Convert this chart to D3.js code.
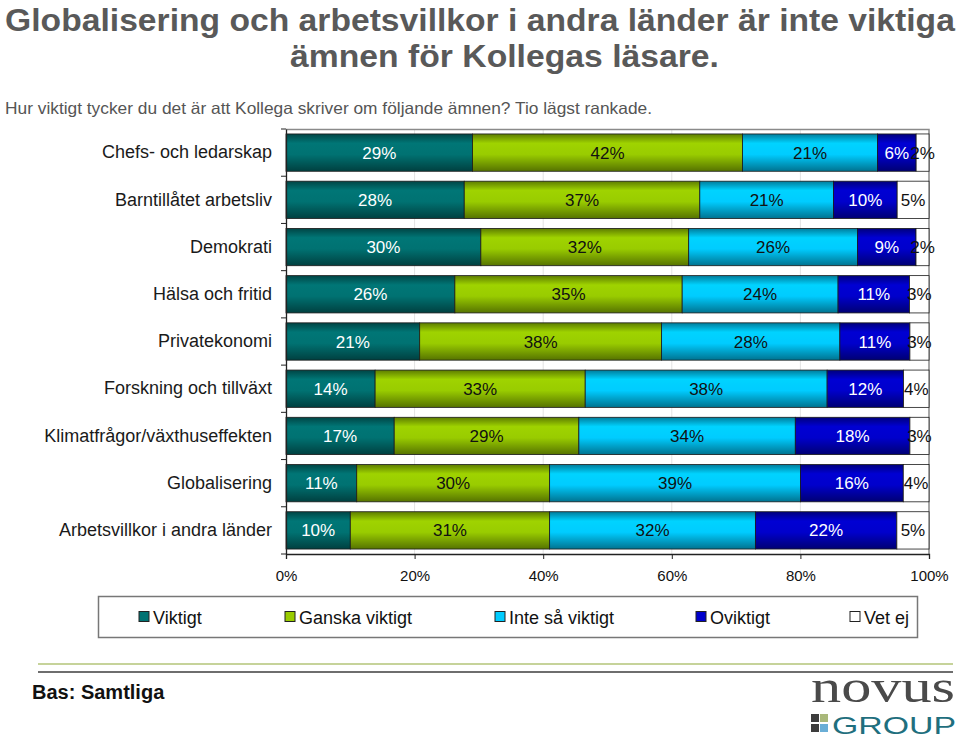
<!DOCTYPE html>
<html>
<head>
<meta charset="utf-8">
<script src="https://cdn.jsdelivr.net/npm/d3@7"></script>
<style>
  html, body { margin: 0; padding: 0; background: #fff; }
  svg { display: block; }
</style>
</head>
<body>
<svg id="chart" width="960" height="739" font-family="Liberation Sans, Arial, sans-serif"></svg>
<script>
// ---- data ----
const categories = [
  "Chefs- och ledarskap",
  "Barntillåtet arbetsliv",
  "Demokrati",
  "Hälsa och fritid",
  "Privatekonomi",
  "Forskning och tillväxt",
  "Klimatfrågor/växthuseffekten",
  "Globalisering",
  "Arbetsvillkor i andra länder"
];
const seriesNames = ["Viktigt", "Ganska viktigt", "Inte så viktigt", "Oviktigt", "Vet ej"];
const viktigt  = [29, 28, 30, 26, 21, 14, 17, 11, 10];
const ganska   = [42, 37, 32, 35, 38, 33, 29, 30, 31];
const inteSa   = [21, 21, 26, 24, 28, 38, 34, 39, 32];
const oviktigt = [6, 10, 9, 11, 11, 12, 18, 16, 22];
const vetEj    = [2, 5, 2, 3, 3, 4, 3, 4, 5];
const xTicks   = [0, 0.2, 0.4, 0.6, 0.8, 1.0];
const xTickLabels = ["0%", "20%", "40%", "60%", "80%", "100%"];

const titleLines = ["Globalisering och arbetsvillkor i andra länder är inte viktiga", "ämnen för Kollegas läsare."];
const subtitle = "Hur viktigt tycker du det är att Kollega skriver om följande ämnen? Tio lägst rankade.";
const baseText = "Bas: Samtliga";

// ---- styles ----
const seriesColors = ["#007272", "#99cc00", "#00ccff", "#0000cc", "#ffffff"];
const labelColors = ["#ffffff", "#111111", "#111111", "#ffffff", "#111111"];

const svg = d3.select("#chart");
const defs = svg.append("defs");

seriesColors.forEach((c, i) => {
  const g = defs.append("linearGradient").attr("id", "grad" + i)
    .attr("x1", 0).attr("y1", 0).attr("x2", 0).attr("y2", 1);
  if (i === 4) {
    g.append("stop").attr("offset", "0%").attr("stop-color", "#ffffff");
    g.append("stop").attr("offset", "100%").attr("stop-color", "#ffffff");
    return;
  }
  const base = d3.color(c);
  g.append("stop").attr("offset", "0%").attr("stop-color", base.darker(1.4));
  g.append("stop").attr("offset", "25%").attr("stop-color", base.brighter(0.1));
  g.append("stop").attr("offset", "55%").attr("stop-color", base);
  g.append("stop").attr("offset", "100%").attr("stop-color", base.darker(1.6));
});

// ---- title (horizontally condensed via transform so its box matches what is drawn) ----
function condensedText(str, cx, cy, size, targetW) {
  const t = svg.append("text").attr("x", 0).attr("y", 0).attr("text-anchor", "middle")
    .attr("font-size", size).attr("font-weight", "bold").attr("fill", "#595959").text(str);
  const w = t.node().getComputedTextLength();
  const k = w > 0 ? targetW / w : 1;
  t.attr("transform", `translate(${cx},${cy}) scale(${k},1)`);
  return t;
}
condensedText(titleLines[0], 480, 30.5, 32, 950);
condensedText(titleLines[1], 504.5, 66.5, 32, 429);

svg.append("text").attr("x", 5).attr("y", 114)
  .attr("font-size", 16.5).attr("fill", "#555555")
  .attr("textLength", 647).attr("lengthAdjust", "spacingAndGlyphs")
  .text(subtitle);

// ---- scales ----
const x = d3.scaleLinear().domain([0, 1]).range([286, 929]);
const y = d3.scaleBand().domain(categories).range([129, 554]).paddingInner(0.21).paddingOuter(0.105);

// data table
const rows = categories.map((c, i) => ({
  cat: c,
  "Viktigt": viktigt[i],
  "Ganska viktigt": ganska[i],
  "Inte så viktigt": inteSa[i],
  "Oviktigt": oviktigt[i],
  "Vet ej": vetEj[i]
}));
const stacked = d3.stack().keys(seriesNames).offset(d3.stackOffsetExpand)(rows);

// plot background + gridlines
svg.append("rect").attr("x", x(0)).attr("y", 129).attr("width", x(1) - x(0)).attr("height", 554 - 129)
  .attr("fill", "#ffffff");
svg.append("g").selectAll("line").data(xTicks.slice(1, -1)).join("line")
  .attr("x1", d => x(d)).attr("x2", d => x(d))
  .attr("y1", 129).attr("y2", 554)
  .attr("stroke", "#e3e3e3").attr("stroke-width", 1);
svg.append("path")
  .attr("d", `M${x(0)},129.5 H${x(1)} V554`)
  .attr("fill", "none").attr("stroke", "#8a8a8a").attr("stroke-width", 1.5);

// bars
const layers = svg.append("g").selectAll("g").data(stacked).join("g")
  .attr("fill", (d, i) => `url(#grad${i})`);
layers.selectAll("rect").data(d => d).join("rect")
  .attr("x", d => x(d[0]))
  .attr("y", d => y(d.data.cat))
  .attr("width", d => x(d[1]) - x(d[0]))
  .attr("height", y.bandwidth())
  .attr("stroke", "#1a1a1a").attr("stroke-width", 0.8);

// bar labels
const labels = svg.append("g");
stacked.forEach((layer, si) => {
  labels.selectAll(null).data(layer).join("text")
    .attr("x", d => (x(d[0]) + x(d[1])) / 2)
    .attr("y", d => y(d.data.cat) + y.bandwidth() / 2 + 6)
    .attr("text-anchor", "middle")
    .attr("font-size", 17)
    .attr("fill", labelColors[si])
    .text(d => d.data[seriesNames[si]] + "%");
});

// axes
const xAxis = d3.axisBottom(x).tickValues(xTicks).tickFormat((d, i) => xTickLabels[i]).tickSize(5).tickPadding(11);
const gx = svg.append("g").attr("transform", "translate(0,554)").call(xAxis);
gx.attr("font-family", null).attr("font-size", null);
gx.select(".domain").attr("stroke", "#222").attr("stroke-width", 1.3);
gx.selectAll(".tick line").attr("stroke", "#222");
gx.selectAll("text").attr("font-size", 15).attr("fill", "#111");

const yAxis = d3.axisLeft(y).tickSize(0).tickPadding(14);
const gy = svg.append("g").attr("transform", `translate(${x(0)},0)`).call(yAxis);
gy.attr("font-family", null).attr("font-size", null);
gy.select(".domain").attr("stroke", "#222").attr("stroke-width", 1.3);
gy.selectAll("text").attr("font-size", 18).attr("fill", "#1a1a1a");
const bounds = categories.map(c => y(c) - y.step() * y.paddingInner() / 2).concat([554]);
svg.append("g").selectAll("line").data(bounds).join("line")
  .attr("x1", x(0) - 5).attr("x2", x(0))
  .attr("y1", d => d).attr("y2", d => d)
  .attr("stroke", "#222").attr("stroke-width", 1);

// legend
svg.append("rect").attr("x", 98.5).attr("y", 596.5).attr("width", 819).attr("height", 41)
  .attr("fill", "#fff").attr("stroke", "#777").attr("stroke-width", 1.5);
const legendX = [139, 285, 495, 696, 850];
const lg = svg.append("g").selectAll("g").data(seriesNames).join("g")
  .attr("transform", (d, i) => `translate(${legendX[i]},617)`);
lg.append("rect").attr("x", 0).attr("y", -5.5).attr("width", 10).attr("height", 10)
  .attr("fill", (d, i) => seriesColors[i]).attr("stroke", "#222").attr("stroke-width", 1);
lg.append("text").attr("x", 14).attr("y", 6.5).attr("font-size", 18).attr("fill", "#111")
  .text(d => d);

// bottom lines
svg.append("line").attr("x1", 38).attr("x2", 953).attr("y1", 664).attr("y2", 664)
  .attr("stroke", "#c6d39a").attr("stroke-width", 2);
svg.append("line").attr("x1", 38).attr("x2", 953).attr("y1", 672).attr("y2", 672)
  .attr("stroke", "#6e6e6e").attr("stroke-width", 2);

svg.append("text").attr("x", 32).attr("y", 699).attr("font-size", 20).attr("font-weight", "bold")
  .attr("fill", "#111").text(baseText);

// logo
svg.append("text").attr("x", 811).attr("y", 702).attr("font-family", "Liberation Serif, DejaVu Serif, serif")
  .attr("font-size", 46).attr("fill", "#4a4a4a")
  .attr("textLength", 144).attr("lengthAdjust", "spacingAndGlyphs").text("novus");
const sq = [[811, 714, "#3d3d3d"], [820, 714, "#a9b87a"], [811, 724, "#3d3d3d"], [820, 724, "#6aaed6"]];
svg.append("g").selectAll("rect").data(sq).join("rect")
  .attr("x", d => d[0]).attr("y", d => d[1]).attr("width", 8).attr("height", 8).attr("fill", d => d[2]);
svg.append("text").attr("x", 832).attr("y", 734).attr("font-size", 24).attr("fill", "#1f6f7e")
  .attr("textLength", 124).attr("lengthAdjust", "spacingAndGlyphs").text("GROUP");
</script>
</body>
</html>
